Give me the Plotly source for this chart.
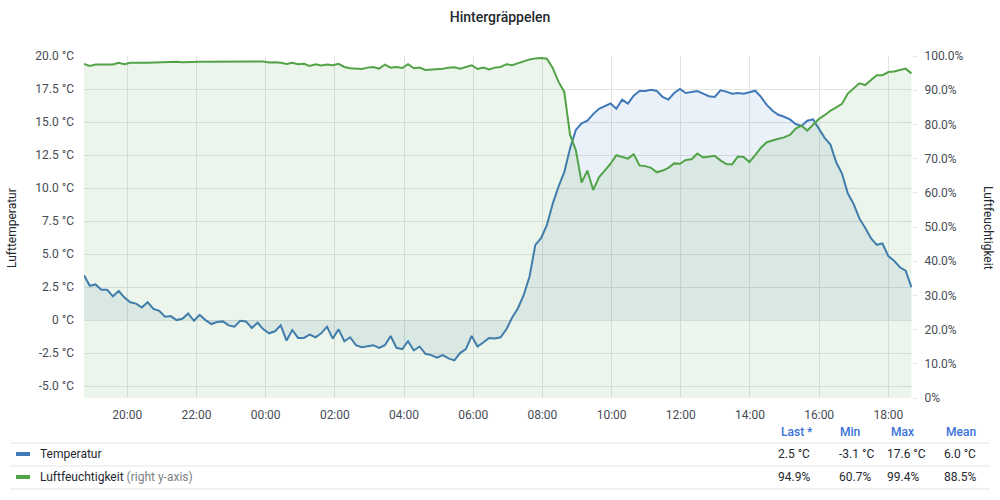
import pandas as pd
import plotly.graph_objects as go

# ---------------- data ----------------
start_time = "2024-01-01 18:45"
end_time = "2024-01-02 18:41"

temperature = [
    3.4, 2.6, 2.7, 2.3, 2.3, 1.8, 2.2, 1.7, 1.35, 1.25,
    0.95, 1.35, 0.85, 0.7, 0.25, 0.3, 0.0, 0.1, 0.5, -0.05,
    0.4, 0.0, -0.3, -0.15, -0.1, -0.4, -0.5, -0.05, -0.1, -0.6,
    -0.2, -0.7, -1.0, -0.85, -0.4, -1.55, -0.75, -1.35, -1.35, -1.1,
    -1.3, -1.0, -0.5, -1.4, -0.7, -1.6, -1.3, -1.9, -2.05, -2.0,
    -1.9, -2.1, -1.9, -1.2, -2.1, -2.2, -1.6, -2.3, -2.0, -2.55,
    -2.65, -2.85, -2.65, -2.9, -3.05, -2.5, -2.2, -1.2, -2.0, -1.7,
    -1.35, -1.4, -1.3, -0.7, 0.2, 0.9, 1.9, 3.3, 5.7, 6.2,
    7.2, 8.8, 10.1, 11.2, 13.0, 14.4, 14.9, 15.1, 15.6, 16.0,
    16.2, 16.4, 16.0, 16.7, 16.4, 17.0, 17.35, 17.35, 17.45, 17.35,
    16.9, 16.7, 17.2, 17.5, 17.2, 17.25, 17.35, 17.15, 16.95, 16.9,
    17.4, 17.3, 17.15, 17.2, 17.15, 17.25, 17.37, 16.9, 16.3, 15.85,
    15.55, 15.4, 15.2, 14.85, 14.7, 15.1, 15.2, 14.5, 13.8, 13.3,
    11.95, 11.1, 9.6, 8.8, 7.7, 7.0, 6.2, 5.7, 5.8, 4.85,
    4.5, 4.0, 3.75, 2.5,
]

humidity = [
    97.7, 97.1, 97.5, 97.5, 97.5, 97.5, 98.0, 97.6, 98.0, 97.9,
    98.0, 98.0, 98.1, 98.0, 98.1, 98.2, 98.3, 98.2, 98.3, 98.3,
    98.3, 98.3, 98.3, 98.3, 98.3, 98.3, 98.3, 98.3, 98.5, 98.3,
    98.5, 98.4, 98.1, 98.2, 98.0, 97.7, 98.0, 97.6, 97.7, 97.1,
    97.6, 97.2, 97.5, 97.3, 97.7, 96.8, 96.4, 96.3, 96.2, 96.6,
    96.8, 96.3, 97.5, 96.6, 96.8, 96.5, 97.6, 96.4, 96.6, 95.9,
    96.0, 96.1, 96.3, 96.6, 96.7, 96.3, 96.8, 97.3, 96.2, 96.6,
    96.1, 96.6, 96.8, 97.6, 97.3, 97.9, 98.3, 99.0, 99.3, 99.4,
    99.2, 96.5, 92.5, 89.5, 77.0, 72.5, 63.0, 66.5, 60.8, 64.5,
    66.5, 68.5, 71.0, 70.5, 70.0, 71.3, 68.0, 67.8, 67.3, 66.0,
    66.5, 67.3, 68.6, 68.5, 69.6, 69.8, 71.5, 70.3, 70.6, 70.8,
    69.5, 68.4, 68.3, 70.6, 70.5, 69.0, 71.0, 73.2, 74.8, 75.4,
    75.8, 76.2, 76.9, 78.8, 79.6, 78.2, 79.8, 81.6, 82.7, 84.0,
    85.0, 86.0, 89.0, 90.4, 92.0, 91.5, 93.0, 94.4, 94.4, 95.3,
    95.5, 95.8, 96.3, 94.9,
]

temp_ticks = [-5.0, -2.5, 0, 2.5, 5.0, 7.5, 10.0, 12.5, 15.0, 17.5, 20.0]
temp_ticktext = ["-5.0 °C", "-2.5 °C", "0 °C", "2.5 °C", "5.0 °C", "7.5 °C",
                 "10.0 °C", "12.5 °C", "15.0 °C", "17.5 °C", "20.0 °C"]
hum_ticks = [0, 10, 20, 30, 40, 50, 60, 70, 80, 90, 100]
hum_ticktext = ["0%", "10.0%", "20.0%", "30.0%", "40.0%", "50.0%",
                "60.0%", "70.0%", "80.0%", "90.0%", "100.0%"]

series_names = ["Temperatur", "Luftfeuchtigkeit"]
stat_headers = ["Last *", "Min", "Max", "Mean"]
temp_stats = ["2.5 °C", "-3.1 °C", "17.6 °C", "6.0 °C"]
hum_stats = ["94.9%", "60.7%", "99.4%", "88.5%"]

times = pd.date_range(start_time, "2024-01-02 18:40", periods=len(temperature))

# ---------------- style ----------------
FONT = "Roboto"
TXT = "#464c54"
BLUE = "#3f79b7"
GREEN = "#52a347"
GRID = "#e3e3e3"

W, H = 1000, 500
PL, PR, PT, PB = 84, 912, 56, 398


def px(x):
    return (x - PL) / (PR - PL)


def py(y):
    return (PB - y) / (PB - PT)


fig = go.Figure()

fig.add_trace(go.Scatter(
    x=times, y=humidity, name=series_names[1], yaxis="y2",
    mode="lines", line=dict(color=GREEN, width=2),
    fill="tozeroy", fillcolor="rgba(82,163,71,0.11)",
))
fig.add_trace(go.Scatter(
    x=times, y=temperature, name=series_names[0], yaxis="y",
    mode="lines", line=dict(color=BLUE, width=2),
    fill="tozeroy", fillcolor="rgba(63,121,183,0.10)",
))

fig.update_layout(
    width=W, height=H,
    margin=dict(l=PL, r=W - PR, t=PT, b=H - PB),
    paper_bgcolor="white", plot_bgcolor="white",
    showlegend=False,
    font=dict(family=FONT, size=12, color=TXT),
    title=dict(text="Hintergräppelen", x=0.5, xanchor="center",
               y=1 - 17 / H, yanchor="middle",
               font=dict(family=FONT, size=14, color="#24292e", weight=500)),
    xaxis=dict(
        type="date", range=[start_time, end_time],
        tickformat="%H:%M", dtick=2 * 3600 * 1000, tick0="2024-01-01 20:00",
        showgrid=True, gridcolor=GRID, gridwidth=1,
        zeroline=False, showline=False, ticks="",
        ticklabelstandoff=8, tickfont=dict(size=12, color=TXT),
    ),
    yaxis=dict(
        range=[-5.9, 20.0], tickvals=temp_ticks, ticktext=temp_ticktext,
        showgrid=True, gridcolor=GRID, gridwidth=1,
        zeroline=False, showline=False, ticks="",
        ticklabelstandoff=9, tickfont=dict(size=12, color=TXT),
    ),
    yaxis2=dict(
        range=[0, 100], tickvals=hum_ticks, ticktext=hum_ticktext,
        overlaying="y", side="right", showgrid=False, zeroline=False,
        showline=False, ticks="outside", ticklen=4, tickcolor=GRID,
        ticklabelstandoff=5, tickfont=dict(size=12, color=TXT),
    ),
)

annotations = [
    dict(text="Lufttemperatur", xref="paper", yref="paper",
         x=px(12), y=py(228), xanchor="center", yanchor="middle",
         textangle=-90, showarrow=False,
         font=dict(size=12, color="#24292e")),
    dict(text="Luftfeuchtigkeit", xref="paper", yref="paper",
         x=px(988), y=py(228), xanchor="center", yanchor="middle",
         textangle=90, showarrow=False,
         font=dict(size=12, color="#24292e")),
]

# legend table
header_x = [779, 838, 889, 944]
value_x = [776, 837, 885, 942]
for hx, h in zip(header_x, stat_headers):
    annotations.append(dict(text=h, xref="paper", yref="paper", x=px(hx), y=py(432),
                            xanchor="left", yanchor="middle", showarrow=False,
                            font=dict(size=12, color="#3871dc", weight=500)))
row_y = [454, 477]
row_stats = [temp_stats, hum_stats]
row_colors = [BLUE, GREEN]
row_labels = [series_names[0],
              series_names[1] + " <span style='color:#7b7f85'>(right y-axis)</span>"]
for ry, stats, col, lab in zip(row_y, row_stats, row_colors, row_labels):
    annotations.append(dict(text=lab, xref="paper", yref="paper", x=px(38), y=py(ry),
                            xanchor="left", yanchor="middle", showarrow=False,
                            font=dict(size=12, color="#24292e")))
    for vx, v in zip(value_x, stats):
        annotations.append(dict(text=v, xref="paper", yref="paper", x=px(vx), y=py(ry),
                                xanchor="left", yanchor="middle", showarrow=False,
                                font=dict(size=12, color="#24292e")))

shapes = []
for ly in [443, 466, 489]:
    shapes.append(dict(type="line", xref="paper", yref="paper",
                       x0=px(10), x1=px(990), y0=py(ly), y1=py(ly),
                       line=dict(color="#e6e6e6", width=1)))
for ry, col in zip(row_y, row_colors):
    shapes.append(dict(type="line", xref="paper", yref="paper",
                       x0=px(16), x1=px(30), y0=py(ry), y1=py(ry),
                       line=dict(color=col, width=4)))

fig.update_layout(annotations=annotations, shapes=shapes)

fig.write_html(
    "out.html",
    config={"displayModeBar": False},
    post_script="document.body.style.margin='0';document.body.style.overflow='hidden';",
)
